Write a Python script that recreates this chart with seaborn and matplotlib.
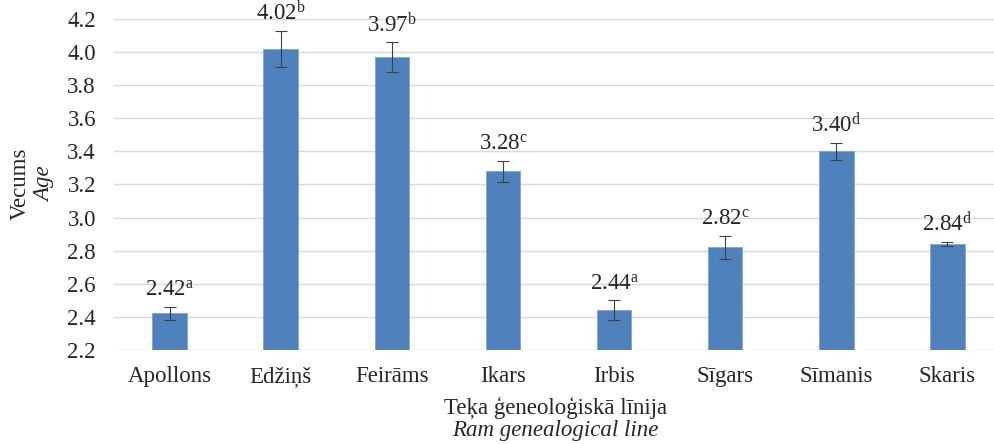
import numpy as np
import matplotlib
matplotlib.use("Agg")
import matplotlib.pyplot as plt
import pandas as pd
import seaborn as sns

lines = ['Apollons', 'Edžiņš', 'Feirāms', 'Ikars', 'Irbis', 'Sīgars', 'Sīmanis', 'Skaris']
age = [2.42, 4.02, 3.97, 3.28, 2.44, 2.82, 3.40, 2.84]
err = [0.04, 0.11, 0.09, 0.065, 0.06, 0.07, 0.05, 0.013]
letters = ['a', 'b', 'b', 'c', 'a', 'c', 'd', 'd']

sns.set_style("white")
plt.rcParams['font.family'] = ['Liberation Serif', 'DejaVu Serif']
plt.rcParams['mathtext.fontset'] = 'custom'
plt.rcParams['mathtext.rm'] = 'Liberation Serif'
plt.rcParams['mathtext.it'] = 'Liberation Serif:italic'
fs = 16.5

data = pd.DataFrame({'line': lines, 'age': age})

fig = plt.figure(figsize=(9.95, 4.44), dpi=100)
ax = fig.add_axes([0.1146, 0.2124, 0.8935, 0.7442])

sns.barplot(x='line', y='age', data=data, color='#4f81bd', width=0.31,
            saturation=1, edgecolor='#7fa3d1', linewidth=0.6, ax=ax, zorder=2)
ax.errorbar(np.arange(len(lines)), age, yerr=err, fmt='none', ecolor='#404040',
            elinewidth=0.8, capsize=4.5, capthick=0.8, zorder=3)

for i, (v, e, l) in enumerate(zip(age, err, letters)):
    ax.annotate(f"{v:.2f}$^{{\\mathrm{{{l}}}}}$", (i, v + e), xytext=(0, 4),
                textcoords='offset points', ha='center', va='bottom', fontsize=fs)

ticks = np.arange(2.2, 4.21, 0.2)
ax.set_ylim(2.2, 4.2)
ax.set_yticks(ticks)
ax.set_yticklabels([f"{t:.1f}" for t in ticks])
ax.set_xlim(-0.5, len(lines) - 0.5)
ax.grid(axis='y', color='#d9d9d9', linewidth=1.0, zorder=0)
ax.set_axisbelow(True)
for s in ax.spines.values():
    s.set_visible(False)
ax.tick_params(axis='both', length=0, labelsize=fs)
ax.tick_params(axis='x', pad=12)
ax.tick_params(axis='y', pad=13)
ax.set_xlabel('')
ax.set_ylabel('')

fig.text(0.558, 1 - 408 / 444, 'Teķa ģeneoloģiskā līnija', ha='center', va='center', fontsize=fs)
fig.text(0.558, 1 - 430 / 444, 'Ram genealogical line', ha='center', va='center',
         fontsize=fs, style='italic')
fig.text(20 / 995, 1 - 184 / 444, 'Vecums', rotation=90, ha='center', va='center', fontsize=fs)
fig.text(45 / 995, 1 - 184 / 444, 'Age', rotation=90, ha='center', va='center',
         fontsize=fs, style='italic')

fig.savefig('out.png', dpi=100)
